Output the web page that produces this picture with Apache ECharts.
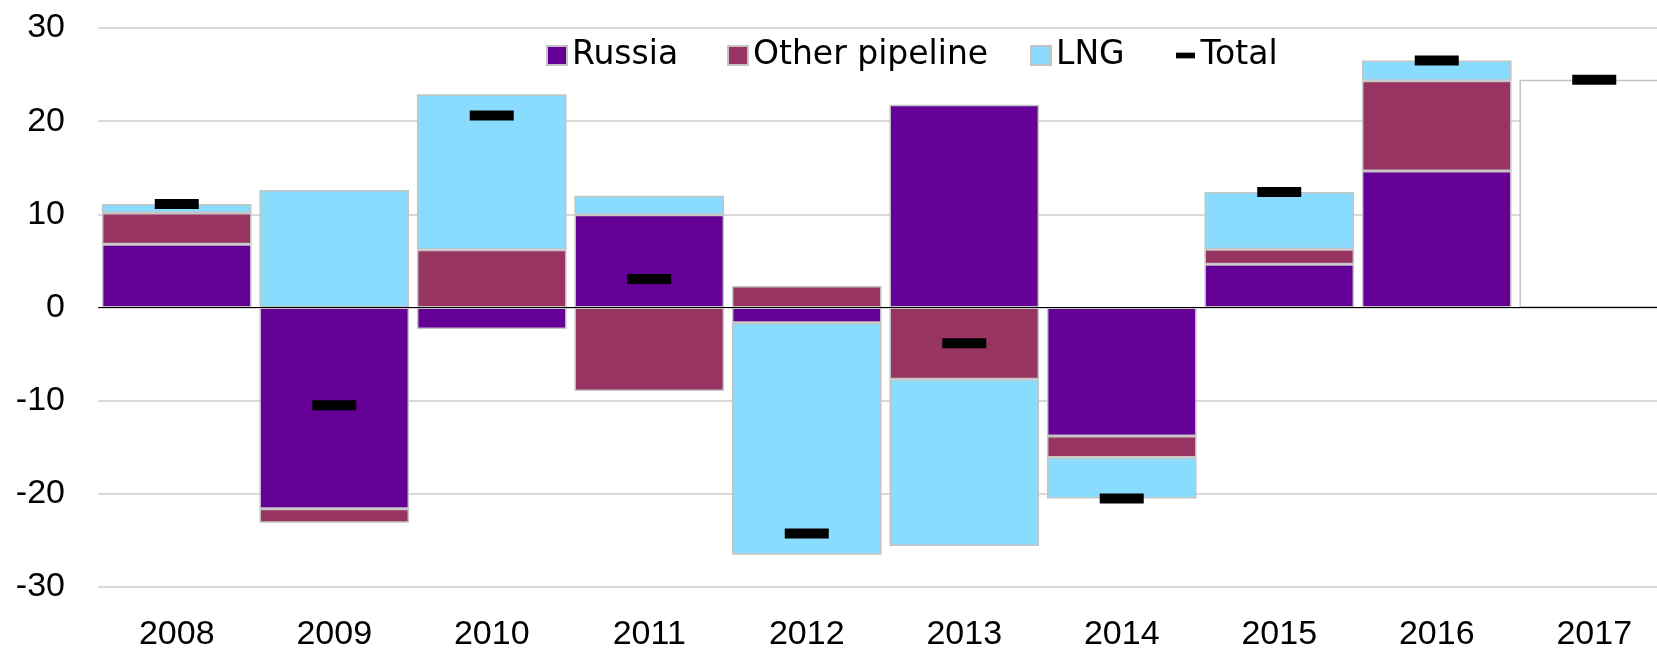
<!DOCTYPE html>
<html>
<head>
<meta charset="utf-8">
<script src="https://cdn.jsdelivr.net/npm/echarts@6/dist/echarts.min.js"></script>
<style>
  html, body { margin: 0; padding: 0; background: #fff; }
  #chart { width: 1657px; height: 651px; }
</style>
</head>
<body>
<div id="chart"></div>
<script>
var years = ['2008', '2009', '2010', '2011', '2012', '2013', '2014', '2015', '2016', '2017'];
var russia = [6.8, -21.6, -2.3, 9.95, -1.65, 21.75, -13.8, 4.65, 14.65, null];
var otherPipeline = [3.35, -1.5, 6.2, -8.95, 2.3, -7.7, -2.3, 1.6, 9.7, null];
var lng = [0.95, 12.6, 16.7, 2.05, -24.9, -17.9, -4.4, 6.15, 2.15, null];
var unsplit = [null, null, null, null, null, null, null, null, null, 24.45];
var total = [11.1, -10.5, 20.6, 3.05, -24.25, -3.85, -20.5, 12.4, 26.5, 24.45];
var yTicks = [-30, -20, -10, 0, 10, 20, 30];

var chart = echarts.init(document.getElementById('chart'), null, { renderer: 'canvas' });

var font = 'Liberation Sans, Arial, sans-serif';
var legendFont = 'DejaVu Sans, sans-serif';
var border = '#c4c4c4';

function barSeries(name, data, color) {
  return {
    name: name,
    type: 'bar',
    stack: 'all',
    data: data,
    barCategoryGap: '5%',
    itemStyle: { color: color, borderColor: border, borderWidth: 1.5 },
    emphasis: { disabled: true }
  };
}

// one legend per item so each sits where it does in the picture
var legendItems = [
  { name: 'Russia', left: 546, icon: 'rect' },
  { name: 'Other pipeline', left: 727, icon: 'rect' },
  { name: 'LNG', left: 1030, icon: 'rect' },
  { name: 'Total', left: 1176, icon: 'path://M0,0L0,0M0,7L20,7L20,13L0,13ZM20,20L20,20' }
];

var option = {
  backgroundColor: '#fff',
  animation: false,
  textStyle: { fontFamily: font },
  legend: legendItems.map(function (it) {
    return {
      data: [{ name: it.name, icon: it.icon }],
      left: it.left,
      top: 39,
      padding: 0,
      itemWidth: 20,
      itemHeight: 19,
      selectedMode: false,
      textStyle: { fontSize: 33, color: '#000', fontFamily: legendFont }
    };
  }),
  // the plot runs a little past the right edge of the picture
  grid: { left: 98, right: -16, top: 28, bottom: 64, outerBoundsMode: 'none' },
  xAxis: {
    type: 'category',
    data: years,
    axisLine: { show: false },
    axisTick: { show: false },
    axisLabel: { fontSize: 34, color: '#000', margin: 31, fontFamily: font }
  },
  yAxis: {
    type: 'value',
    min: yTicks[0],
    max: yTicks[yTicks.length - 1],
    interval: 10,
    axisLine: { show: false },
    axisTick: { show: false },
    axisLabel: { fontSize: 34, color: '#000', margin: 33, fontFamily: font },
    splitLine: { lineStyle: { color: '#d9d9d9', width: 2 } }
  },
  series: [
    barSeries('Russia', russia, '#650096'),
    barSeries('Other pipeline', otherPipeline, '#983462'),
    barSeries('LNG', lng, '#8adcff'),
    barSeries('2017', unsplit, '#ffffff'),
    {
      name: 'Total',
      type: 'scatter',
      data: total,
      symbol: 'rect',
      symbolSize: [44, 10],
      itemStyle: { color: '#000', opacity: 1 },
      z: 5,
      emphasis: { disabled: true },
      markLine: {
        silent: true,
        symbol: ['none', 'none'],
        label: { show: false },
        lineStyle: { color: '#000', width: 1.2, type: 'solid', opacity: 1 },
        data: [{ yAxis: 0 }]
      }
    }
  ]
};

chart.setOption(option);
</script>
</body>
</html>
